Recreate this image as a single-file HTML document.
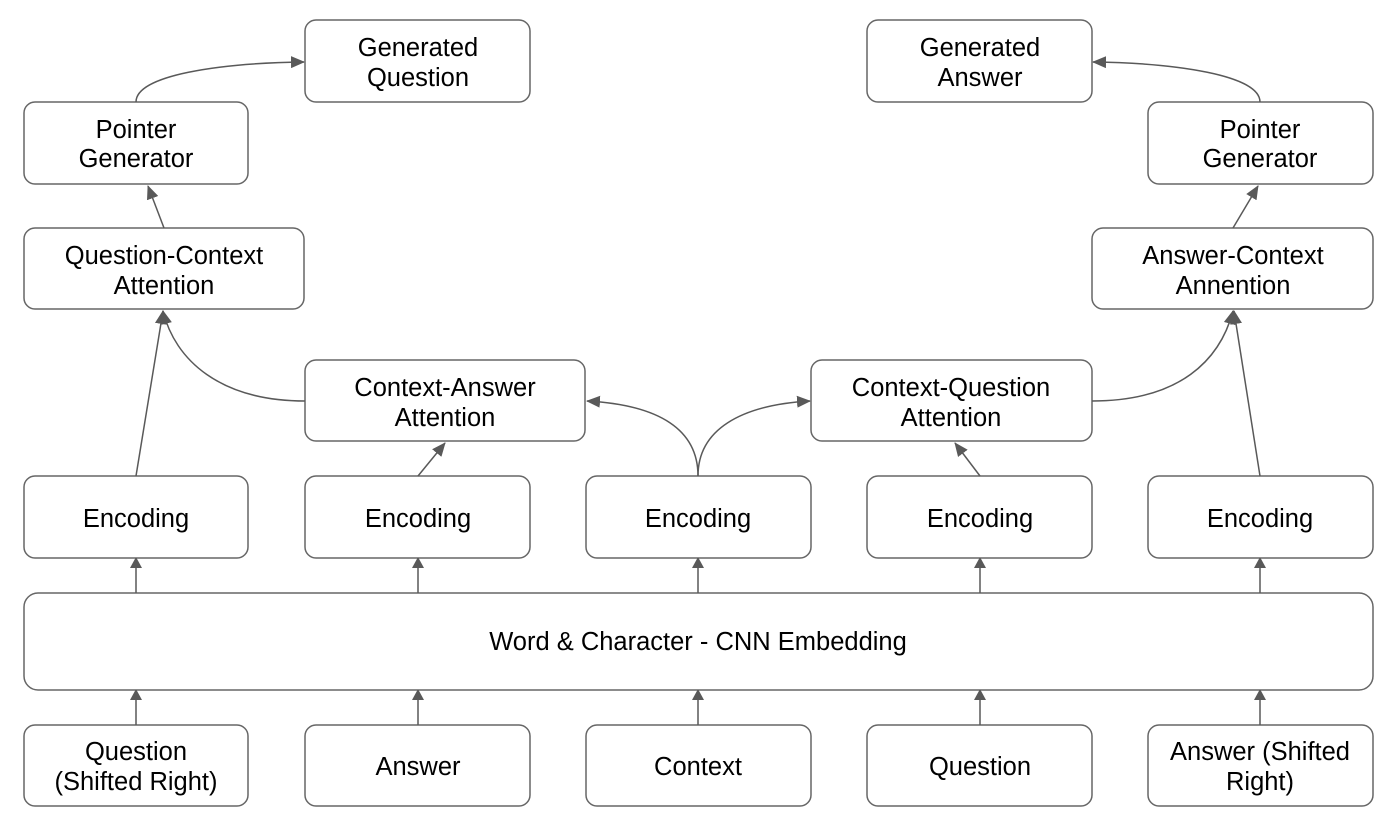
<!DOCTYPE html>
<html><head><style>
body{margin:0;background:#fff;}
svg text{font-family:"Liberation Sans",Arial,sans-serif;font-size:25.5px;fill:#000;text-anchor:middle;}
</style></head><body>
<svg width="1397" height="827" xmlns="http://www.w3.org/2000/svg">
<defs><marker id="a" markerWidth="10" markerHeight="12" refX="9" refY="6" orient="auto" markerUnits="userSpaceOnUse"><path d="M0,0 L11,6 L0,12 z" fill="#595959"/></marker>
<marker id="b" markerWidth="14" markerHeight="12" refX="13" refY="6" orient="auto" markerUnits="userSpaceOnUse"><path d="M0,0 L14,6 L0,12 z" fill="#595959"/></marker></defs>
<g fill="#fff" stroke="#666" stroke-width="1.5">
<rect x="305" y="20" width="225" height="82" rx="11"/>
<rect x="867" y="20" width="225" height="82" rx="11"/>
<rect x="24" y="102" width="224" height="82" rx="11"/>
<rect x="1148" y="102" width="225" height="82" rx="11"/>
<rect x="24" y="228" width="280" height="81" rx="11"/>
<rect x="1092" y="228" width="281" height="81" rx="11"/>
<rect x="305" y="360" width="280" height="81" rx="11"/>
<rect x="811" y="360" width="281" height="81" rx="11"/>
<rect x="24" y="476" width="224" height="82" rx="11"/>
<rect x="305" y="476" width="225" height="82" rx="11"/>
<rect x="586" y="476" width="225" height="82" rx="11"/>
<rect x="867" y="476" width="225" height="82" rx="11"/>
<rect x="1148" y="476" width="225" height="82" rx="11"/>
<rect x="24" y="593" width="1349" height="97" rx="14"/>
<rect x="24" y="725" width="224" height="81" rx="11"/>
<rect x="305" y="725" width="225" height="81" rx="11"/>
<rect x="586" y="725" width="225" height="81" rx="11"/>
<rect x="867" y="725" width="225" height="81" rx="11"/>
<rect x="1148" y="725" width="225" height="81" rx="11"/>
</g>
<g fill="none" stroke="#595959" stroke-width="1.5">
<path d="M136,102 C136,75 220,63 304,62" marker-end="url(#b)"/>
<path d="M1260,102 C1260,75 1175,63 1093,62" marker-end="url(#b)"/>
<path d="M164,228 L148,186" marker-end="url(#b)"/>
<path d="M1233,228 L1258,186" marker-end="url(#b)"/>
<path d="M136,476 L163,311" marker-end="url(#b)"/>
<path d="M305,401 C220,401 175,360 163,311" marker-end="url(#b)"/>
<path d="M418,476 L445,443" marker-end="url(#b)"/>
<path d="M698,476 C698,430 660,405 587,401" marker-end="url(#b)"/>
<path d="M698,476 C698,430 740,405 810,401" marker-end="url(#b)"/>
<path d="M980,476 L955,443" marker-end="url(#b)"/>
<path d="M1092,401 C1180,401 1220,360 1233,311" marker-end="url(#b)"/>
<path d="M1260,476 L1234,311" marker-end="url(#b)"/>
<path d="M136,593 V559" marker-end="url(#a)"/>
<path d="M418,593 V559" marker-end="url(#a)"/>
<path d="M698,593 V559" marker-end="url(#a)"/>
<path d="M980,593 V559" marker-end="url(#a)"/>
<path d="M1260,593 V559" marker-end="url(#a)"/>
<path d="M136,725 V691" marker-end="url(#a)"/>
<path d="M418,725 V691" marker-end="url(#a)"/>
<path d="M698,725 V691" marker-end="url(#a)"/>
<path d="M980,725 V691" marker-end="url(#a)"/>
<path d="M1260,725 V691" marker-end="url(#a)"/>
</g>
<text x="418" y="56">Generated</text><text x="418" y="86">Question</text>
<text x="980" y="56">Generated</text><text x="980" y="86">Answer</text>
<text x="136" y="138">Pointer</text><text x="136" y="167">Generator</text>
<text x="164" y="264">Question-Context</text><text x="164" y="294">Attention</text>
<text x="1260" y="138">Pointer</text><text x="1260" y="167">Generator</text>
<text x="1233" y="264">Answer-Context</text><text x="1233" y="294">Annention</text>
<text x="445" y="396">Context-Answer</text><text x="445" y="426">Attention</text>
<text x="951" y="396">Context-Question</text><text x="951" y="426">Attention</text>
<text x="136" y="527">Encoding</text>
<text x="418" y="527">Encoding</text>
<text x="698" y="527">Encoding</text>
<text x="980" y="527">Encoding</text>
<text x="1260" y="527">Encoding</text>
<text x="698" y="650">Word &amp; Character - CNN Embedding</text>
<text x="136" y="760">Question</text><text x="136" y="790">(Shifted Right)</text>
<text x="418" y="775">Answer</text>
<text x="698" y="775">Context</text>
<text x="980" y="775">Question</text>
<text x="1260" y="760">Answer (Shifted</text><text x="1260" y="790">Right)</text>
</svg>
</body></html>
